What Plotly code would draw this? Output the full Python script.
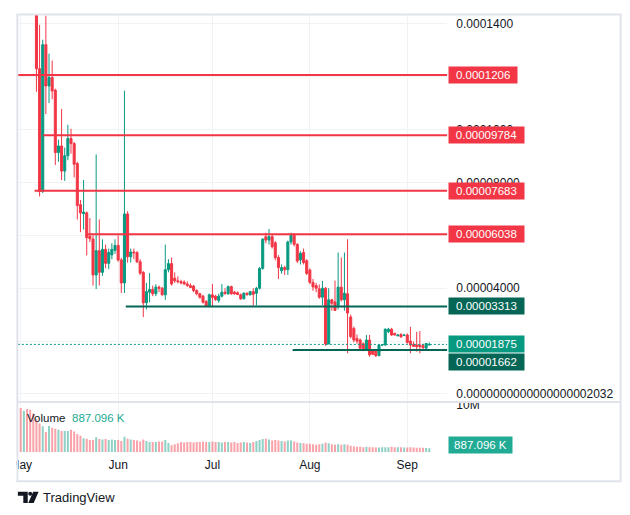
import numpy as np
import pandas as pd
import plotly.graph_objects as go

# ---------------- data (prices in units of 1e-6) ----------------
start_date = "2024-05-01"
n_days = 131
open_u = [165, 155, 185, 168, 158, 150, 123.0, 76.6, 132.1, 116.5,
          119.7, 114.9, 91.3, 93.8, 84.3, 90.1, 96.6, 94.7, 87.2, 71.6,
          68.2, 68.5, 59.7, 58.6, 45.0, 54.2, 46.0, 54.7, 49.4, 52.6,
          54.3, 56.2, 50.7, 42.0, 68.1, 51.9, 53.7, 53.5, 50.0, 46.0,
          34.5, 38.5, 39.5, 37.9, 40.4, 40.0, 37.5, 47.0, 49.3, 43.8,
          42.8, 42.5, 42.3, 41.6, 41.0, 40.8, 39.1, 37.9, 37.0, 35.0,
          33.0, 37.5, 37.0, 35.4, 37.0, 38.5, 37.9, 40.6, 38.5, 38.3,
          37.5, 36.0, 38.1, 37.5, 38.7, 38.1, 40.0, 47.5, 59.5, 58.2,
          59.5, 57.2, 51.6, 46.6, 47.8, 47.0, 57.5, 60.0, 56.6, 50.7,
          53.5, 50.4, 46.9, 42.2, 41.0, 39.8, 36.6, 40.0, 18.9, 35.6,
          34.8, 33.5, 40.4, 35.6, 37.9, 29.1, 24.8, 21.0, 20.4, 19.0,
          16.8, 20.4, 16.3, 16.3, 14.5, 18.5, 18.5, 23.5, 24.5, 22.9,
          22.0, 22.5, 22.1, 22.3, 20.0, 18.8, 18.5, 18.5, 18.3, 17.3,
          18.5]
high_u = [180, 195, 200, 175, 162, 152, 139.6, 134.0, 143.1, 128.7,
          126.1, 115.5, 96.2, 107.8, 93.2, 101.8, 100.3, 95.3, 87.8, 73.4,
          80.9, 69.0, 66.5, 60.0, 90.6, 66.0, 58.5, 56.5, 55.0, 57.0,
          58.5, 60.0, 51.5, 114.7, 69.1, 55.0, 55.0, 54.0, 51.0, 46.5,
          42.0, 45.7, 41.0, 41.5, 41.0, 40.5, 56.5, 51.0, 51.6, 46.0,
          44.5, 43.2, 43.0, 42.6, 41.8, 41.2, 39.6, 38.3, 37.5, 35.5,
          38.0, 41.6, 37.5, 38.0, 41.6, 40.0, 41.0, 41.0, 39.0, 38.8,
          38.0, 38.5, 38.4, 39.0, 40.0, 40.5, 48.0, 59.0, 61.0, 62.4,
          60.5, 57.8, 52.5, 49.0, 48.5, 58.0, 61.0, 60.8, 57.0, 54.0,
          55.0, 51.0, 47.5, 43.5, 42.0, 41.4, 42.8, 40.4, 40.0, 36.0,
          42.9, 53.5, 51.6, 53.5, 58.5, 30.0, 25.5, 22.5, 21.0, 19.5,
          22.3, 22.3, 16.8, 16.5, 18.7, 18.9, 24.8, 25.0, 25.0, 23.2,
          22.6, 23.0, 22.6, 22.9, 25.4, 19.8, 23.5, 23.8, 19.0, 19.3,
          19.5]
low_u = [150, 148, 160, 150, 146, 114.3, 74.7, 76.0, 105.9, 110.0,
         111.5, 86.6, 87.8, 80.9, 80.6, 88.4, 90.9, 81.9, 66.0, 61.2,
         62.2, 52.4, 57.5, 41.0, 39.7, 41.0, 44.7, 47.5, 47.2, 51.0,
         53.0, 50.0, 38.2, 38.2, 49.7, 49.7, 51.0, 49.5, 45.0, 29.1,
         32.0, 34.7, 37.0, 37.0, 38.5, 37.2, 35.6, 46.0, 41.0, 42.0,
         41.8, 41.5, 41.2, 40.5, 40.0, 38.5, 37.3, 36.0, 34.2, 32.9,
         32.9, 32.9, 35.2, 34.5, 36.5, 37.5, 37.5, 37.5, 37.5, 37.4,
         35.6, 35.8, 37.3, 37.2, 33.5, 33.5, 39.5, 47.0, 57.0, 56.5,
         55.0, 50.5, 43.5, 45.5, 45.0, 45.0, 56.5, 55.8, 49.5, 49.0,
         49.0, 45.0, 41.5, 39.0, 38.5, 36.0, 33.5, 18.2, 18.9, 31.5,
         31.5, 32.0, 35.0, 31.5, 15.4, 21.0, 19.5, 19.0, 16.5, 16.2,
         16.5, 14.1, 14.8, 14.0, 14.3, 18.2, 18.3, 23.0, 22.0, 22.2,
         21.8, 21.2, 21.9, 19.0, 15.4, 17.8, 16.0, 15.4, 17.0, 17.2,
         18.4]
close_u = [155, 185, 168, 158, 150, 123.0, 76.6, 132.1, 116.5, 119.7,
           114.6, 91.3, 93.8, 84.3, 90.1, 96.6, 94.7, 86.9, 71.3, 68.5,
           68.8, 59.1, 58.7, 45.0, 54.2, 46.0, 54.7, 49.4, 53.5, 54.7,
           56.2, 50.7, 42.0, 68.1, 51.9, 53.7, 53.4, 50.0, 45.7, 34.5,
           38.7, 39.5, 37.9, 40.4, 40.0, 37.5, 47.0, 49.3, 41.6, 42.8,
           42.5, 42.0, 41.6, 41.0, 40.3, 39.1, 37.9, 36.6, 34.7, 33.2,
           37.5, 36.5, 35.7, 37.0, 38.5, 38.0, 40.6, 37.9, 37.9, 37.6,
           36.0, 38.1, 37.5, 38.7, 37.7, 40.0, 47.5, 58.5, 58.2, 59.5,
           55.7, 51.6, 47.8, 47.8, 47.0, 57.5, 60.0, 56.6, 50.3, 53.2,
           49.7, 45.6, 42.2, 40.5, 40.0, 36.6, 40.0, 18.9, 35.6, 34.3,
           31.6, 40.4, 35.6, 38.1, 30.6, 21.7, 20.4, 20.0, 17.3, 16.6,
           20.4, 14.8, 15.0, 14.5, 18.5, 18.6, 24.5, 24.5, 22.3, 22.3,
           22.3, 21.6, 22.3, 19.5, 18.5, 18.0, 17.9, 17.9, 17.5, 19.1,
           18.75]
volume_m = [9.4, 8.8, 9.2, 9.0, 8.2,
            7.0, 6.1, 5.5, 4.3,
            5.6, 5.2, 5.0, 4.8, 4.5, 4.5, 4.5, 4.8, 4.4,
            3.9, 3.5, 3.0, 2.9, 2.6, 2.6,
            3.2, 2.8, 2.7, 2.8, 2.6, 2.7, 2.6, 2.6,
            2.4, 3.3, 2.9, 2.7, 2.6, 2.5, 2.3, 2.7, 2.4, 2.2, 2.2, 2.2, 2.3, 2.3, 2.6,
            2.0, 1.5, 1.7, 1.9,
            2.2, 2.1, 2.2, 2.2, 2.1, 2.2, 2.2, 2.3, 2.2, 2.2, 2.3, 2.2,
            2.2, 2.1, 2.2, 2.2, 2.1, 2.2, 2.0, 2.1, 2.2, 2.1, 2.0, 2.2,
            2.4, 2.6, 2.8, 2.9, 2.7, 2.5, 2.6, 2.5, 2.4, 2.3, 2.5, 2.5, 2.3,
            2.1, 2.0, 1.9, 1.8, 1.8, 1.7, 1.6, 1.7, 1.8,
            2.1, 1.9, 1.7, 1.6, 1.7, 1.6, 1.7, 1.6, 1.4, 1.3,
            1.2, 1.2, 1.1, 1.2, 1.1, 1.1, 1.0, 1.0, 1.1, 1.1, 1.1, 1.2,
            1.1, 1.1, 1.1, 1.0, 1.0, 1.1, 1.0, 0.95, 0.95, 0.95, 0.9, 0.887096]

level_values_u = [120.6, 97.84, 76.83, 60.38, 33.13, 16.62]
level_labels = ["0.0001206", "0.00009784", "0.00007683", "0.00006038",
                "0.00003313", "0.00001662"]
level_starts = [None, "2024-05-08 04:00", "2024-05-05 10:00", "2024-05-22 02:00",
                "2024-06-03 10:00", "2024-07-26 12:30"]
level_kinds = ["res", "res", "res", "res", "sup", "sup"]
last_price_u = 18.75
last_price_label = "0.00001875"
last_volume_label = "887.096 K"

price_ticks_u = [140, 120, 100, 80, 60, 40, 20, 0]
price_tick_text = ["0.0001400", "", "0.0001000", "0.00008000", "",
                   "0.00004000", "", "0.0000000000000000002032"]
month_ticks = ["2024-05-01", "2024-06-01", "2024-07-01", "2024-08-01", "2024-09-01"]
month_text = ["May", "Jun", "Jul", "Aug", "Sep"]

# ---------------- styling ----------------
UP = "#089981"
DN = "#F23645"
UP_VOL = "rgba(8,153,129,0.45)"
DN_VOL = "rgba(242,54,69,0.45)"
SUP = "#056656"
TXT = "#131722"
GRID = "#F0F2F5"
FONT = "Liberation Sans"
W, H = 630, 515

def px(x):
    return x / W

def py(y):
    return 1 - y / H

U = 1e-6
dates = pd.date_range(start_date, periods=n_days, freq="D")
o = np.array(open_u) * U
h = np.array(high_u) * U
l = np.array(low_u) * U
c = np.array(close_u) * U
vol = np.array(volume_m) * 1e6
vcolors = [UP_VOL if cc >= oo else DN_VOL for oo, cc in zip(o, c)]

# pixel geometry of the panes
plot_l, plot_r = 10, 445
first_bar_px, bar_step_px = 12.9, 3.183
d0 = pd.Timestamp(start_date)
x_range = [d0 + pd.Timedelta(days=(plot_l - first_bar_px) / bar_step_px),
           d0 + pd.Timedelta(days=(plot_r - first_bar_px) / bar_step_px)]
price_top_px, price_bot_px = 10, 400
vol_top_px, vol_bot_px = 402, 451.7
price_range = [-2.70 * U, 143.37 * U]
vol_range = [0, 10.43e6]

fig = go.Figure()
fig.add_trace(go.Candlestick(
    x=dates, open=o, high=h, low=l, close=c,
    increasing=dict(line=dict(color=UP, width=1), fillcolor=UP),
    decreasing=dict(line=dict(color=DN, width=1), fillcolor=DN),
    whiskerwidth=0, showlegend=False, hoverinfo="skip",
    xaxis="x", yaxis="y"))
fig.add_trace(go.Bar(
    x=dates, y=vol, marker=dict(color=vcolors, line=dict(width=0)),
    showlegend=False, hoverinfo="skip", xaxis="x2", yaxis="y2"))

shapes = []
annotations = []

label_font = dict(color="white", size=11.5, family=FONT)

# level lines and their price-scale labels
for val, lab, st, kind in zip(level_values_u, level_labels, level_starts, level_kinds):
    col = DN if kind == "res" else SUP
    x0 = x_range[0] if st is None else st
    shapes.append(dict(type="line", xref="x", yref="y", x0=x0, x1=x_range[1],
                       y0=val * U, y1=val * U, line=dict(color=col, width=2), layer="above"))
for val, lab, kind in zip(level_values_u, level_labels, level_kinds):
    col = DN if kind == "res" else SUP
    shift = -12 if lab == "0.00001662" else 0
    annotations.append(dict(xref="paper", yref="y", x=px(446), y=val * U, yshift=shift,
                            xanchor="left", yanchor="middle", text=lab, showarrow=False,
                            bgcolor=col, borderpad=2, width=len(lab) * 6.7 + 4, height=12,
                            align="center", font=label_font))

# last price dotted line + label
shapes.append(dict(type="line", xref="x", yref="y", x0=x_range[0], x1=x_range[1],
                   y0=last_price_u * U, y1=last_price_u * U,
                   line=dict(color=UP, width=1, dash="2px,2px"), layer="above"))
annotations.append(dict(xref="paper", yref="y", x=px(446), y=last_price_u * U,
                        xanchor="left", yanchor="middle", text=last_price_label, showarrow=False,
                        bgcolor=UP, borderpad=2, width=len(last_price_label) * 6.7 + 4, height=12,
                        align="center", font=label_font))

# volume last label
annotations.append(dict(xref="paper", yref="y2", x=px(446), y=vol[-1], yshift=3,
                        xanchor="left", yanchor="middle", text=last_volume_label, showarrow=False,
                        bgcolor="#22AB94", borderpad=2, width=59, height=12,
                        align="center", font=label_font))

# volume legend
annotations.append(dict(xref="paper", yref="paper", x=px(17), y=py(417), xanchor="left",
                        yanchor="middle", text="Volume", showarrow=False,
                        font=dict(color=TXT, size=11.5, family=FONT)))
annotations.append(dict(xref="paper", yref="paper", x=px(63), y=py(417), xanchor="left",
                        yanchor="middle", text=last_volume_label, showarrow=False,
                        font=dict(color="#22AB94", size=11.5, family=FONT)))

# footer
annotations.append(dict(xref="paper", yref="paper", x=px(33), y=py(497), xanchor="left",
                        yanchor="middle", text="TradingView", showarrow=False,
                        font=dict(color=TXT, size=13, family=FONT)))
# TradingView logo (simple shapes)
shapes.append(dict(type="path", xref="paper", yref="paper", fillcolor=TXT, line=dict(width=0),
                   path=f"M {px(10)} {py(491.5)} L {px(20)} {py(491.5)} L {px(20)} {py(503)} "
                        f"L {px(15.5)} {py(503)} L {px(15.5)} {py(495.5)} L {px(10)} {py(495.5)} Z"))
shapes.append(dict(type="circle", xref="paper", yref="paper", fillcolor=TXT, line=dict(width=0),
                   x0=px(20.5), x1=px(24.5), y0=py(495.5), y1=py(491.5)))
shapes.append(dict(type="path", xref="paper", yref="paper", fillcolor=TXT, line=dict(width=0),
                   path=f"M {px(25.5)} {py(491.5)} L {px(31)} {py(491.5)} L {px(26)} {py(503)} "
                        f"L {px(20.5)} {py(503)} Z"))

# frame, separator, cover for volume-scale label top
shapes.append(dict(type="rect", xref="paper", yref="paper", x0=px(446), x1=px(619),
                   y0=py(400), y1=py(398.8), fillcolor="white", line=dict(width=0), layer="above"))
shapes.append(dict(type="line", xref="paper", yref="paper", x0=px(9.5), x1=px(620),
                   y0=py(401), y1=py(401), line=dict(color="#E0E3EB", width=2), layer="above"))
shapes.append(dict(type="rect", xref="paper", yref="paper", x0=px(9.5), x1=px(620.5),
                   y0=py(481), y1=py(9.5), line=dict(color="#E0E3EB", width=2), layer="above"))
# clip month label at the left frame edge
shapes.append(dict(type="rect", xref="paper", yref="paper", x0=0, x1=px(8.5),
                   y0=py(478), y1=py(455), fillcolor="white", line=dict(width=0), layer="above"))

fig.update_layout(
    width=W, height=H, margin=dict(l=0, r=0, t=0, b=0),
    paper_bgcolor="white", plot_bgcolor="white",
    font=dict(family=FONT, color=TXT, size=12),
    showlegend=False, bargap=0.35, boxgap=0.35, boxgroupgap=0,
    shapes=shapes, annotations=annotations,
    xaxis=dict(domain=[px(plot_l), px(plot_r)], range=x_range, type="date",
               anchor="y", showticklabels=False, tickvals=month_ticks,
               showgrid=True, gridcolor=GRID, gridwidth=1, zeroline=False,
               showline=False, rangeslider=dict(visible=False), fixedrange=True),
    yaxis=dict(domain=[py(price_bot_px), py(price_top_px)], range=price_range,
               side="right", anchor="x", tickvals=[v * U for v in price_ticks_u],
               ticktext=price_tick_text, showgrid=True, gridcolor=GRID, gridwidth=1,
               zeroline=False, showline=False, ticks="", ticklabelstandoff=8,
               tickfont=dict(size=12, color=TXT, family=FONT)),
    xaxis2=dict(domain=[px(plot_l), px(plot_r)], matches="x", anchor="y2", type="date",
                tickvals=month_ticks, ticktext=month_text, showgrid=True, gridcolor=GRID,
                gridwidth=1, zeroline=False, showline=False, ticks="",
                ticklabelstandoff=4, tickfont=dict(size=12, color=TXT, family=FONT),
                rangeslider=dict(visible=False)),
    yaxis2=dict(domain=[py(vol_bot_px), py(vol_top_px)], range=vol_range, side="right",
                anchor="x2", tickvals=[10e6], ticktext=["10M"], showgrid=False,
                zeroline=False, showline=False, ticks="", ticklabelstandoff=8,
                tickfont=dict(size=12, color=TXT, family=FONT)),
)

fig.write_html("out.html", config={"displayModeBar": False},
               post_script="document.body.style.margin='0px';document.body.style.overflow='hidden';")
